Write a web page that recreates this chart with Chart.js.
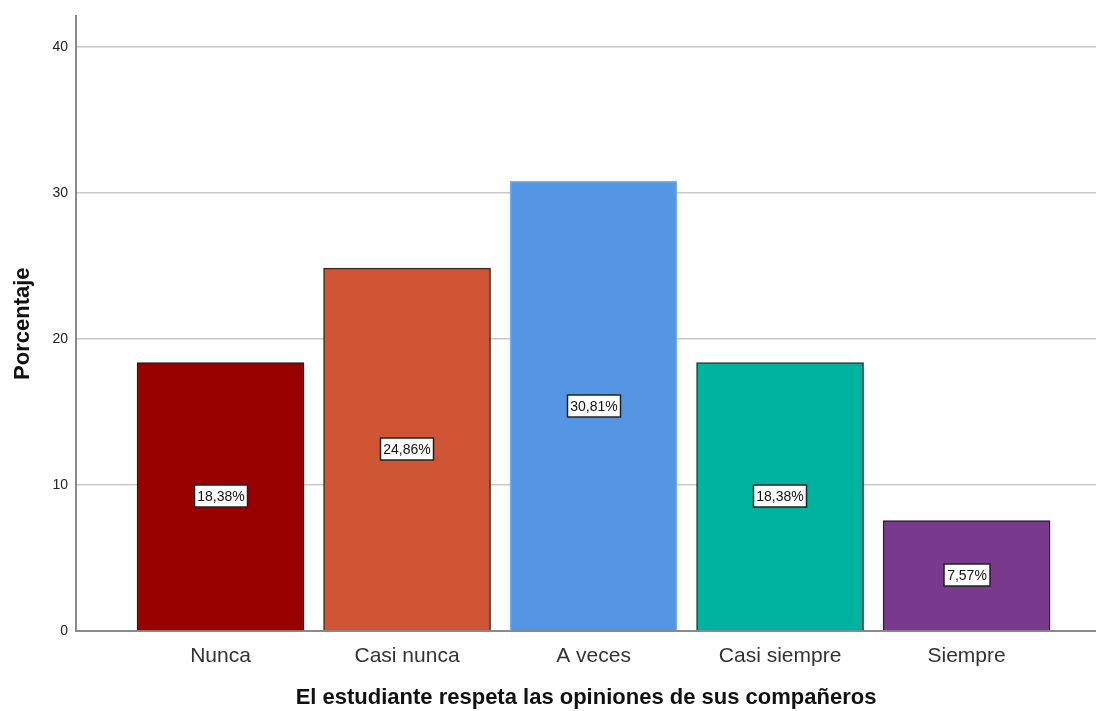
<!DOCTYPE html>
<html>
<head>
<meta charset="utf-8">
<script src="https://cdn.jsdelivr.net/npm/chart.js@4.4.1/dist/chart.umd.min.js"></script>
<style>
  html, body { margin: 0; padding: 0; background: #fff; overflow: hidden; }
  #wrap { width: 1096px; height: 711px; }
</style>
</head>
<body>
<div id="wrap"><canvas id="grafico"></canvas></div>
<script>
const categorias = ["Nunca", "Casi nunca", "A veces", "Casi siempre", "Siempre"];
const porcentajes = [18.38, 24.86, 30.81, 18.38, 7.57];
const etiquetas = ["18,38%", "24,86%", "30,81%", "18,38%", "7,57%"];
const ticksY = [0, 10, 20, 30, 40];
const colores = ["#990000", "#d05535", "#5596e4", "#00b2a0", "#793a8e"];
const bordes = ["#2a1a1a", "#3a2a26", "#7aaeea", "#1d3b38", "#2a1f30"];

const fuente = '"Liberation Sans", Arial, sans-serif';

// cajas blancas con el porcentaje a media altura de cada barra
const etiquetasBarras = {
  id: "etiquetasBarras",
  afterDatasetsDraw(chart) {
    const ctx = chart.ctx;
    const meta = chart.getDatasetMeta(0);
    ctx.save();
    ctx.font = "14px " + fuente;
    ctx.textAlign = "center";
    ctx.textBaseline = "middle";
    meta.data.forEach((bar, i) => {
      const texto = etiquetas[i];
      const cx = Math.round(bar.x);
      const cy = Math.round((bar.y + bar.base) / 2);
      const w = Math.round(ctx.measureText(texto).width + 6);
      const h = 22;
      ctx.fillStyle = "#ffffff";
      ctx.fillRect(cx - w / 2, cy - h / 2, w, h);
      ctx.strokeStyle = "#222";
      ctx.lineWidth = 1.5;
      ctx.strokeRect(cx - w / 2, cy - h / 2, w, h);
      ctx.fillStyle = "#111";
      ctx.fillText(texto, cx, cy + 1);
    });
    ctx.restore();
  },
};

const ctx = document.getElementById("grafico").getContext("2d");
new Chart(ctx, {
  type: "bar",
  data: {
    datasets: [
      {
        label: "Porcentaje",
        data: porcentajes.map((v, i) => ({ x: i, y: v })),
        backgroundColor: colores,
        borderColor: bordes,
        borderWidth: 1.5,
        borderSkipped: "bottom",
        barThickness: 167,
      },
    ],
  },
  options: {
    responsive: true,
    maintainAspectRatio: false,
    animation: false,
    layout: { padding: { top: 15, left: 0, right: 0, bottom: 0 } },
    plugins: {
      legend: { display: false },
      tooltip: { enabled: false },
    },
    scales: {
      x: {
        type: "linear",
        offset: false,
        min: -0.775,
        max: 4.694,
        afterBuildTicks: (scale) => {
          scale.ticks = categorias.map((c, i) => ({ value: i }));
        },
        afterFit: (scale) => {
          scale.height = 80;
        },
        grid: { display: false, drawTicks: false, offset: false },
        border: { display: true, color: "#8a8a8a", width: 2 },
        ticks: {
          padding: 13,
          color: "#333",
          font: { size: 21, family: fuente },
          callback: (v) => categorias[v] ?? "",
          maxRotation: 0,
          autoSkip: false,
        },
        title: {
          display: true,
          text: "El estudiante respeta las opiniones de sus compañeros",
          color: "#111",
          font: { size: 22, weight: "bold", family: fuente },
          padding: { top: 0, bottom: 0 },
        },
      },
      y: {
        min: 0,
        max: 42.1,
        afterBuildTicks: (scale) => {
          scale.ticks = ticksY.map((v) => ({ value: v }));
        },
        afterFit: (scale) => {
          scale.width = 76;
        },
        grid: { color: "#c8c8c8", lineWidth: 1.5, drawTicks: false },
        border: { display: true, color: "#8a8a8a", width: 2 },
        ticks: {
          padding: 8,
          color: "#222",
          font: { size: 14, family: fuente },
        },
        title: {
          display: true,
          text: "Porcentaje",
          color: "#111",
          font: { size: 22, weight: "bold", family: fuente },
          padding: { top: 10, bottom: 0 },
        },
      },
    },
  },
  plugins: [etiquetasBarras],
});
</script>
</body>
</html>
